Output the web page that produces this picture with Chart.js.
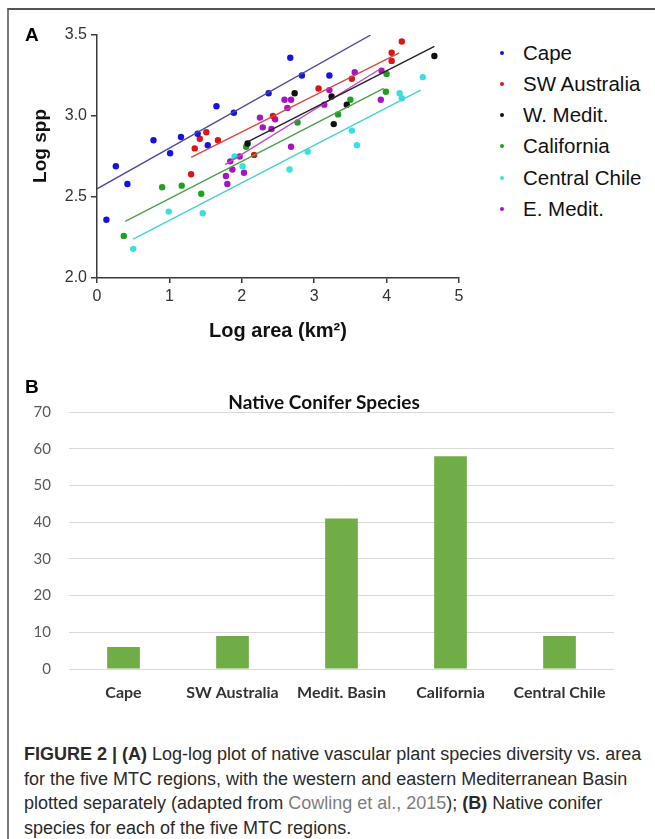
<!DOCTYPE html>
<html>
<head>
<meta charset="utf-8">
<script src="https://cdn.jsdelivr.net/npm/chart.js@4.4.1/dist/chart.umd.min.js"></script>
<style>
  html, body { margin: 0; padding: 0; background: #fff; }
  body { width: 655px; height: 839px; position: relative; overflow: hidden; font-family: "Liberation Sans", Arial, sans-serif; }
  .frame { position: absolute; left: 7px; top: 8px; right: -4px; bottom: -4px; border-top: 2px solid #555; border-left: 2px solid #7a7a7a; }
  #scatter { position: absolute; left: 0; top: 0; }
  #bars { position: absolute; left: 0; top: 370px; }
  .tag { position: absolute; font-weight: bold; font-size: 19px; line-height: 20px; color: #000; }
  .leg { position: absolute; left: 496px; height: 24px; line-height: 24px; font-size: 20.5px; color: #111; white-space: nowrap; }
  .leg i { position: absolute; left: 4px; top: 10px; width: 4px; height: 4px; border-radius: 50%; }
  .leg span { position: absolute; left: 27px; }
  #caption { position: absolute; left: 24px; top: 742px; font-size: 18px; line-height: 24.5px; color: #2a2a2a; white-space: nowrap; }
  #caption .ref { color: #7d7d7d; }
</style>
</head>
<body>
<div class="frame"></div>
<canvas id="scatter" width="470" height="350"></canvas>
<canvas id="bars" width="655" height="350"></canvas>
<div class="tag" style="left:25px; top:25px;">A</div>
<div class="tag" style="left:25px; top:377px;">B</div>
<div id="legend"></div>
<div id="caption"><b>FIGURE 2 | (A)</b> Log-log plot of native vascular plant species diversity vs. area<br>for the five MTC regions, with the western and eastern Mediterranean Basin<br>plotted separately (adapted from <span class="ref">Cowling et al., 2015</span>); <b>(B)</b> Native conifer<br>species for each of the five MTC regions.</div>
<script>
// Panel A: log area (km2) vs log species, one array of [x, y] per region
const cape = [[0.13, 2.36], [0.26, 2.69], [0.42, 2.58], [0.78, 2.85], [1.01, 2.77], [1.16, 2.87], [1.39, 2.89],
  [1.53, 2.82], [1.65, 3.06], [1.89, 3.02], [2.37, 3.14], [2.67, 3.36], [2.83, 3.25], [3.21, 3.25]];
const swAustralia = [[1.30, 2.64], [1.35, 2.80], [1.42, 2.86], [1.51, 2.90], [1.67, 2.85], [2.17, 2.76], [2.43, 3.00],
  [3.06, 3.17], [3.52, 3.23], [4.07, 3.34], [4.07, 3.39], [4.21, 3.46]];
const wMedit = [[2.08, 2.83], [2.73, 3.14], [3.24, 3.12], [3.27, 2.95], [3.45, 3.07], [4.66, 3.37]];
const california = [[0.37, 2.26], [0.90, 2.56], [1.17, 2.57], [1.44, 2.52], [2.06, 2.81], [2.77, 2.96], [3.33, 3.01],
  [3.50, 3.10], [3.99, 3.15], [4.00, 3.26]];
const centralChile = [[0.50, 2.18], [0.99, 2.41], [1.46, 2.40], [1.90, 2.75], [2.01, 2.69], [2.66, 2.67], [2.91, 2.78],
  [3.52, 2.91], [3.59, 2.82], [4.18, 3.14], [4.21, 3.11], [4.50, 3.24]];
const eMedit = [[1.78, 2.63], [1.80, 2.58], [1.84, 2.72], [1.87, 2.67], [1.97, 2.75], [2.03, 2.65], [2.25, 2.99],
  [2.29, 2.93], [2.41, 2.92], [2.46, 2.98], [2.59, 3.10], [2.63, 3.05], [2.68, 3.10], [2.68, 2.81], [3.14, 3.07],
  [3.21, 3.16], [3.56, 3.27], [3.92, 3.10], [3.93, 3.28]];

// regression lines, start and end
const capeFit = [[0, 2.55], [3.78, 3.50]];
const swAustraliaFit = [[1.30, 2.745], [4.175, 3.39]];
const wMeditFit = [[2.08, 2.84], [4.66, 3.43]];
const californiaFit = [[0.39, 2.35], [3.96, 3.17]];
const centralChileFit = [[0.50, 2.24], [4.47, 3.16]];
const eMeditFit = [[1.77, 2.70], [3.91, 3.29]];

const regionNames = ["Cape", "SW Australia", "W. Medit.", "California", "Central Chile", "E. Medit."];
const regionPoints = [cape, swAustralia, wMedit, california, centralChile, eMedit];
const regionFits = [capeFit, swAustraliaFit, wMeditFit, californiaFit, centralChileFit, eMeditFit];
const dotColors = ["#1414dc", "#dc1414", "#111111", "#1fa11f", "#3ae0e0", "#a613c0"];
const fitColors = ["#4a4aa6", "#d24a4a", "#222222", "#4aa24a", "#45d2d2", "#c24ac8"];

const sppTicks = [2.0, 2.5, 3.0, 3.5];
const areaTicks = [0, 1, 2, 3, 4, 5];

// Panel B: native conifer species
const coniferRegions = ["Cape", "SW Australia", "Medit. Basin", "California", "Central Chile"];
const coniferCounts = [6, 9, 41, 58, 9];
const countTicks = [0, 10, 20, 30, 40, 50, 60, 70];

const toXY = (pairs) => pairs.map(p => ({x: p[0], y: p[1]}));

const scatterSets = [];
regionNames.forEach((name, i) => {
    scatterSets.push({
        type: "line",
        label: name + " fit",
        data: toXY(regionFits[i]),
        borderColor: fitColors[i],
        borderWidth: 1.4,
        pointRadius: 0,
        showLine: true,
        fill: false
    });
});
regionNames.forEach((name, i) => {
    scatterSets.push({
        label: name,
        data: toXY(regionPoints[i]),
        backgroundColor: dotColors[i],
        borderColor: dotColors[i],
        borderWidth: 0,
        pointRadius: 3.2
    });
});

const axisGrey = "#3a3a3a";

new Chart(document.getElementById("scatter"), {
    type: "scatter",
    data: { datasets: scatterSets },
    options: {
        responsive: false,
        animation: false,
        devicePixelRatio: 1,
        layout: { padding: { left: 0, top: 35, right: 11, bottom: 0 } },
        plugins: { legend: { display: false }, tooltip: { enabled: false } },
        scales: {
            x: {
                min: areaTicks[0],
                max: areaTicks[areaTicks.length - 1],
                ticks: { stepSize: 1, color: "#333", padding: 4, font: { family: "Liberation Sans", size: 16 } },
                grid: { drawOnChartArea: false, drawTicks: true, tickLength: 5, color: axisGrey, lineWidth: 1.5 },
                border: { color: axisGrey, width: 1.5 },
                title: { display: true, text: "Log area (km²)", color: "#111", padding: { top: 0, bottom: 7 },
                    font: { family: "Liberation Sans", size: 20, weight: "bold" } },
                afterFit: (axis) => { axis.height = 72; }
            },
            y: {
                min: sppTicks[0],
                max: sppTicks[sppTicks.length - 1],
                ticks: { stepSize: 0.5, color: "#333", padding: 4, font: { family: "Liberation Sans", size: 16 },
                    callback: (v) => Number(v).toFixed(1) },
                grid: { drawOnChartArea: false, drawTicks: true, tickLength: 6, color: axisGrey, lineWidth: 1.5 },
                border: { color: axisGrey, width: 1.5 },
                title: { display: true, text: "    Log spp", color: "#111", padding: { top: 29, bottom: 0 },
                    font: { family: "Liberation Sans", size: 19, weight: "bold" } },
                afterFit: (axis) => { axis.width = 97; }
            }
        }
    }
});

// legend for panel A
const legendBox = document.getElementById("legend");
regionNames.forEach((name, i) => {
    const row = document.createElement("div");
    row.className = "leg";
    row.style.top = (40.7 + i * 31.2) + "px";
    row.innerHTML = '<i style="background:' + dotColors[i] + '"></i><span>' + name + '</span>';
    legendBox.appendChild(row);
});

new Chart(document.getElementById("bars"), {
    type: "bar",
    data: {
        labels: coniferRegions,
        datasets: [{
            label: "Native Conifer Species",
            data: coniferCounts,
            backgroundColor: "#70ad47",
            categoryPercentage: 1,
            barPercentage: 0.3
        }]
    },
    options: {
        responsive: false,
        animation: false,
        devicePixelRatio: 1,
        layout: { padding: { left: 34, top: 0, right: 41, bottom: 0 } },
        plugins: {
            legend: { display: false },
            tooltip: { enabled: false },
            title: {
                display: true,
                text: "Native Conifer Species",
                color: "#111",
                padding: { top: 23.2, bottom: 0 },
                font: { family: "Lato", size: 19, weight: "bold", lineHeight: 1 }
            }
        },
        scales: {
            x: {
                grid: { display: false, drawTicks: false },
                border: { display: false },
                ticks: { color: "#333", padding: 14, font: { family: "Lato", size: 16, weight: "bold" } },
                afterFit: (axis) => { axis.height = 51; }
            },
            y: {
                min: countTicks[0],
                max: countTicks[countTicks.length - 1],
                ticks: { stepSize: 10, color: "#595959", padding: 18, font: { family: "Lato", size: 15 } },
                grid: { color: "#d9d9d9", lineWidth: 1, drawTicks: false },
                border: { display: false },
                afterFit: (axis) => { axis.width = 35; }
            }
        }
    }
});
</script>
</body>
</html>
